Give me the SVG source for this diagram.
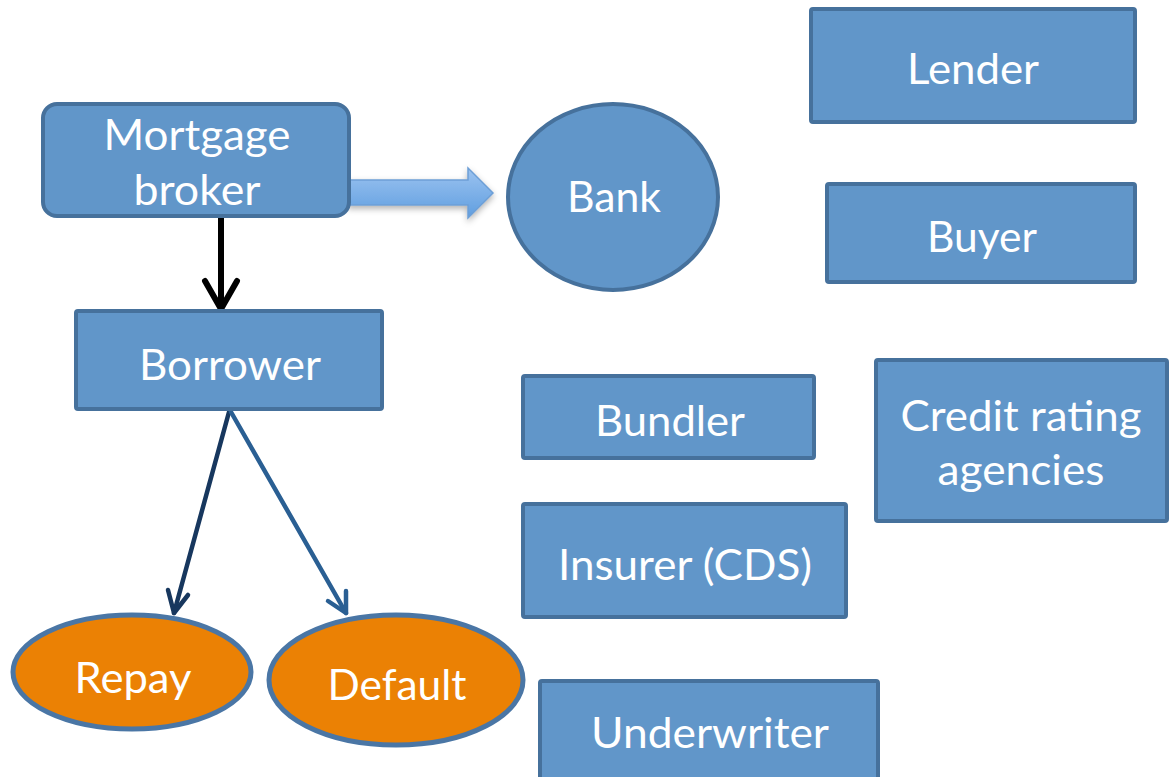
<svg xmlns="http://www.w3.org/2000/svg" width="1172" height="777" viewBox="0 0 1172 777">
<style>
.box{fill:#6196c9;stroke:#46719c;stroke-width:4}
.oval{fill:#eb8104;stroke:#4a76a5;stroke-width:5}
.t{font-family:Lato,"Open Sans","Liberation Sans",sans-serif;font-size:43px;fill:#ffffff;text-anchor:middle}
</style>
<defs>
<linearGradient id="ag" x1="0" y1="0" x2="0" y2="1">
<stop offset="0" stop-color="#9cc3f0"/>
<stop offset="1" stop-color="#5f9ee0"/>
</linearGradient>
<filter id="sh" x="-10%" y="-10%" width="130%" height="140%">
<feDropShadow dx="0" dy="3" stdDeviation="3" flood-color="#000" flood-opacity="0.3"/>
</filter>
</defs>
<rect width="1172" height="777" fill="#ffffff"/>
<g id="connectors">
<path d="M348,180 H468 V168 L493,193 L468,218 V205 H348 Z" fill="url(#ag)" stroke="#6d9fd6" stroke-width="1.5" filter="url(#sh)"/>
<g fill="none" stroke="#000000" stroke-width="6" stroke-linecap="round" stroke-linejoin="round">
<line x1="221" y1="217" x2="221" y2="307"/>
<polyline points="205,281 221,309 237,281"/>
</g>
<g fill="none" stroke="#17375e" stroke-width="4.5" stroke-linecap="round" stroke-linejoin="round">
<line x1="229" y1="412" x2="174" y2="613"/>
<polyline points="168,590 174,613 188,595"/>
</g>
<g fill="none" stroke="#2a5f93" stroke-width="4.5" stroke-linecap="round" stroke-linejoin="round">
<line x1="231" y1="412" x2="346" y2="613"/>
<polyline points="328,601 346,613 346,591"/>
</g>
</g>
<g id="mortgage-broker">
<rect class="box" x="43" y="104" width="306" height="112" rx="14"/>
<text class="t" x="197" y="150" textLength="187" lengthAdjust="spacingAndGlyphs">Mortgage</text>
<text class="t" x="197" y="205" textLength="127" lengthAdjust="spacingAndGlyphs">broker</text>
</g>
<g id="bank">
<ellipse class="box" cx="613" cy="197" rx="105" ry="93"/>
<text class="t" x="614" y="212" textLength="94" lengthAdjust="spacingAndGlyphs">Bank</text>
</g>
<g id="borrower">
<rect class="box" x="76" y="311" width="306" height="98" rx="2"/>
<text class="t" x="230" y="380" textLength="182" lengthAdjust="spacingAndGlyphs">Borrower</text>
</g>
<g id="repay">
<ellipse class="oval" cx="132" cy="672" rx="119" ry="57"/>
<text class="t" x="133" y="693" textLength="117" lengthAdjust="spacingAndGlyphs">Repay</text>
</g>
<g id="default">
<ellipse class="oval" cx="396" cy="680" rx="127" ry="65"/>
<text class="t" x="397" y="700" textLength="139" lengthAdjust="spacingAndGlyphs">Default</text>
</g>
<g id="lender">
<rect class="box" x="811" y="9" width="324" height="113" rx="2"/>
<text class="t" x="973" y="84" textLength="132" lengthAdjust="spacingAndGlyphs">Lender</text>
</g>
<g id="buyer">
<rect class="box" x="827" y="184" width="308" height="98" rx="2"/>
<text class="t" x="982" y="252" textLength="110" lengthAdjust="spacingAndGlyphs">Buyer</text>
</g>
<g id="bundler">
<rect class="box" x="523" y="376" width="291" height="82" rx="2"/>
<text class="t" x="670" y="436" textLength="150" lengthAdjust="spacingAndGlyphs">Bundler</text>
</g>
<g id="credit-rating-agencies">
<rect class="box" x="876" y="360" width="291" height="161" rx="2"/>
<text class="t" x="1021" y="431" textLength="241" lengthAdjust="spacingAndGlyphs">Credit rating</text>
<text class="t" x="1021" y="485" textLength="167" lengthAdjust="spacingAndGlyphs">agencies</text>
</g>
<g id="insurer">
<rect class="box" x="523" y="504" width="323" height="113" rx="2"/>
<text class="t" x="685" y="580" textLength="254" lengthAdjust="spacingAndGlyphs">Insurer (CDS)</text>
</g>
<g id="underwriter">
<rect class="box" x="540" y="681" width="338" height="110" rx="2"/>
<text class="t" x="710" y="748" textLength="238" lengthAdjust="spacingAndGlyphs">Underwriter</text>
</g>
</svg>
